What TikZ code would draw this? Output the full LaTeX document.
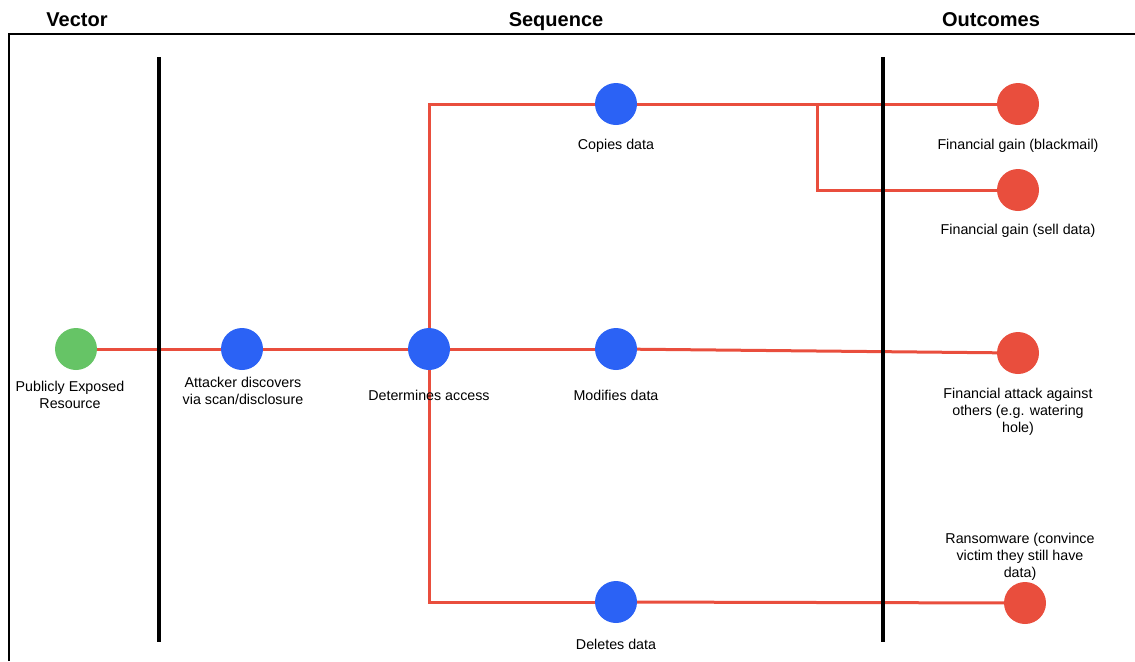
\documentclass[tikz,border=0pt]{standalone}
\usepackage{fontspec}
\setmainfont{Liberation Sans}
\definecolor{redc}{RGB}{233,78,61}
\definecolor{bluec}{RGB}{43,98,245}
\definecolor{greenc}{RGB}{102,196,102}
\pgfdeclarelayer{bg}
\pgfsetlayers{bg,main}
\begin{document}
\begin{tikzpicture}[x=0.75pt,y=-0.75pt,
  dot/.style={circle,minimum size=31.5pt,inner sep=0pt},
  sdot/.style={dot,fill=greenc},
  bdot/.style={dot,fill=bluec},
  rdot/.style={dot,fill=redc},
  lbl/.style={align=center,inner sep=0pt,font=\fontsize{10.7}{12.75}\selectfont},
  hdr/.style={inner sep=0pt,anchor=base,font=\fontsize{15}{18}\selectfont\bfseries},
  link/.style={draw=redc,line width=2.25pt},
  divider/.style={draw=black,line width=2.4pt},
  frame/.style={draw=black,line width=1.6pt}]
\useasboundingbox (0,0) rectangle (1135,661);
% headers
\node[hdr] (hv) at (77,26) {Vector};
\node[hdr] (hs) at (556,26) {Sequence};
\node[hdr] (ho) at (991,26) {Outcomes};
% frame
\draw[frame] (9,661) -- (9,34) -- (1135,34);
% dividers
\draw[divider] (159,57) -- (159,642);
\draw[divider] (883,57) -- (883,642);
% nodes
\node[sdot] (pub) at (76,349) {};
\node[bdot] (att) at (242,349) {};
\node[bdot] (det) at (429,349) {};
\node[bdot] (cop) at (616,104) {};
\node[bdot] (mod) at (616,349) {};
\node[bdot] (del) at (616,602) {};
\node[rdot] (blk) at (1018,104) {};
\node[rdot] (sel) at (1018,190) {};
\node[rdot] (fin) at (1018,353) {};
\node[rdot] (ran) at (1025,603) {};
\coordinate (br) at (817,104);
% labels
\node[lbl] (lpub) at (70,395) {Publicly Exposed\\Resource};
\node[lbl] (latt) at (243,391) {Attacker discovers\\via scan/disclosure};
\node[lbl] (ldet) at (429,395) {Determines access};
\node[lbl] (lcop) at (616,146) {Copies data};
\node[lbl] (lmod) at (616,395) {Modifies data};
\node[lbl] (ldel) at (616,644) {Deletes data};
\node[lbl] (lblk) at (1018,146) {Financial gain (blackmail)};
\node[lbl] (lsel) at (1018,231) {Financial gain (sell data)};
\node[lbl] (lfin) at (1018,412) {Financial attack against\\others (e.g. watering\\hole)};
\node[lbl] (lran) at (1020,557) {Ransomware (convince\\victim they still have\\data)};
% connectors
\begin{pgfonlayer}{bg}
\draw[link] (pub.center) -- (att.center);
\draw[link] (att.center) -- (det.center);
\draw[link] (det.center) |- (cop.center);
\draw[link] (det.center) |- (del.center);
\draw[link] (det.center) -- (mod.center);
\draw[link] (cop.center) -- (blk.center);
\draw[link] (br) |- (sel.center);
\draw[link] (mod.center) -- (fin.center);
\draw[link] (del.center) -- (ran.center);
\end{pgfonlayer}
\end{tikzpicture}
\end{document}
